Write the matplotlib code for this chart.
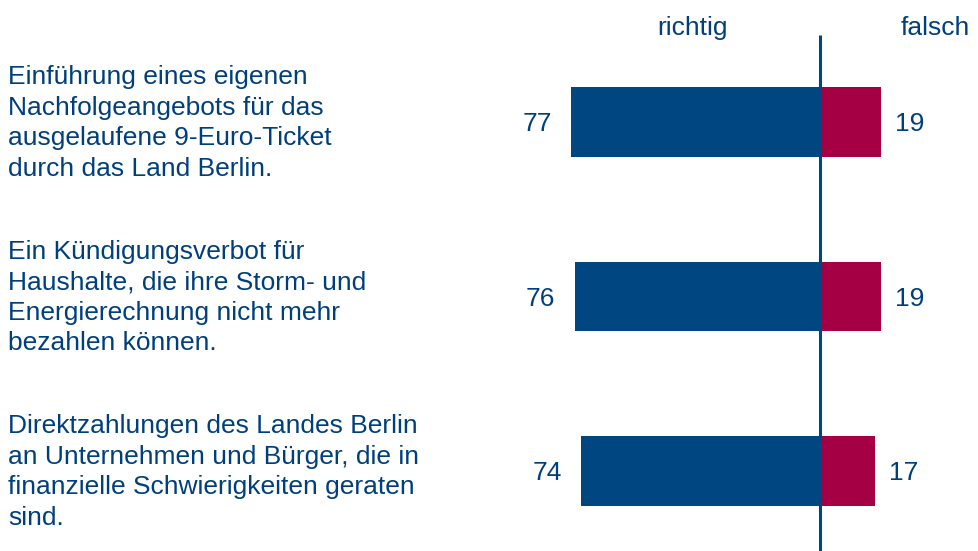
import matplotlib.pyplot as plt

plt.rcParams['font.family'] = ['Liberation Sans', 'DejaVu Sans']

labels = [
    'Einführung eines eigenen\nNachfolgeangebots für das\nausgelaufene 9-Euro-Ticket\ndurch das Land Berlin.',
    'Ein Kündigungsverbot für\nHaushalte, die ihre Storm- und\nEnergierechnung nicht mehr\nbezahlen können.',
    'Direktzahlungen des Landes Berlin\nan Unternehmen und Bürger, die in\nfinanzielle Schwierigkeiten geraten\nsind.',
]
richtig = [77, 76, 74]
falsch = [19, 19, 17]

blue = '#004781'
red = '#a50044'
txt = '#003f7d'
fs = 19

fig = plt.figure(figsize=(9.79, 5.51), dpi=100)
ax = fig.add_axes([0, 0, 1, 1])
ax.set_xlim(-820 / 3.23, (979 - 820) / 3.23)
ax.set_ylim((551 - 122) / 174.5, -122 / 174.5)
ax.axis('off')

pos = list(range(len(labels)))
ax.barh(pos, [-v for v in richtig], height=0.40, color=blue)
ax.barh(pos, falsch, height=0.40, color=red)
ax.plot([0, 0], [-0.5, 2.5], color=blue, lw=2.2, solid_capstyle='butt')

for i in pos:
    ax.annotate(str(richtig[i]), (-richtig[i], i), xytext=(-14, -1.5), textcoords='offset points',
                ha='right', va='center', fontsize=fs, color=txt)
    ax.annotate(str(falsch[i]), (falsch[i], i), xytext=(10, -1.5), textcoords='offset points',
                ha='left', va='center', fontsize=fs, color=txt)
    ax.text(8 / 979, 1 - (123 + i * 174.5) / 551, labels[i], transform=ax.transAxes,
            ha='left', va='center', fontsize=fs, color=txt, linespacing=1.34)

ax.text(693 / 979, 1 - 28 / 551, 'richtig', transform=ax.transAxes,
        ha='center', va='center', fontsize=fs, color=txt)
ax.text(935 / 979, 1 - 28 / 551, 'falsch', transform=ax.transAxes,
        ha='center', va='center', fontsize=fs, color=txt)

fig.savefig('out.png', dpi=100)
